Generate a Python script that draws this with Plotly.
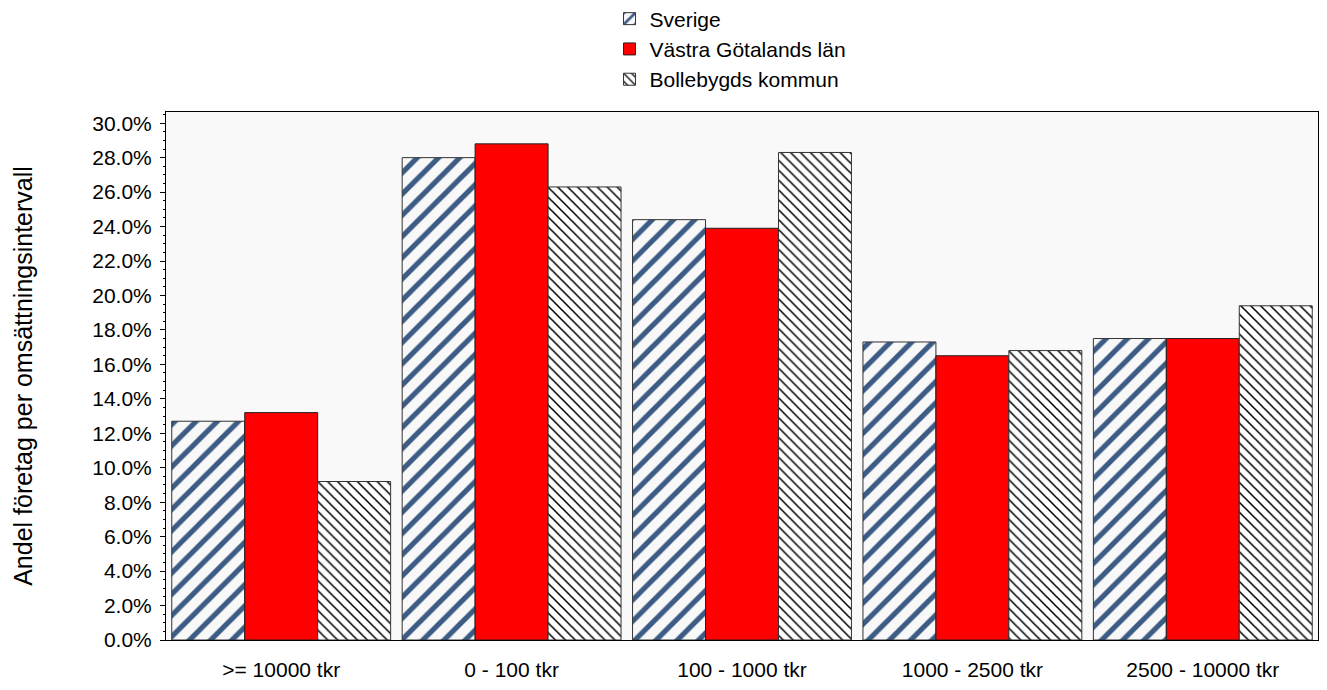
import plotly.graph_objects as go

categories = [">= 10000 tkr", "0 - 100 tkr", "100 - 1000 tkr", "1000 - 2500 tkr", "2500 - 10000 tkr"]
sverige = [12.7, 28.0, 24.4, 17.3, 17.5]
vastra_gotaland = [13.2, 28.8, 23.9, 16.5, 17.5]
bollebygd = [9.2, 26.3, 28.3, 16.8, 19.4]
y_ticks = [i * 2 for i in range(16)]
y_tick_labels = [f"{v:.1f}%" for v in y_ticks]

FONT = "Liberation Sans, Arial, sans-serif"

fig = go.Figure()
fig.add_trace(go.Bar(
    name="Sverige", x=categories, y=sverige,
    marker=dict(color="#f8f8f8", line=dict(color="#333333", width=1),
                pattern=dict(shape="/", fgcolor="#3d5c85", bgcolor="#f8f8f8", size=15,
                             solidity=0.35, fgopacity=1)),
))
fig.add_trace(go.Bar(
    name="Västra Götalands län", x=categories, y=vastra_gotaland,
    marker=dict(color="#ff0000", line=dict(color="#222222", width=1)),
))
fig.add_trace(go.Bar(
    name="Bollebygds kommun", x=categories, y=bollebygd,
    marker=dict(color="#ffffff", line=dict(color="#333333", width=1),
                pattern=dict(shape="\\", fgcolor="#000000", bgcolor="#ffffff", size=7,
                             solidity=0.22, fgopacity=1)),
))

fig.update_layout(
    width=1319, height=682,
    barmode="group", bargap=0.05, bargroupgap=0.0,
    plot_bgcolor="#f9f9f9", paper_bgcolor="#ffffff",
    margin=dict(l=158, r=9, t=104, b=50, autoexpand=False),
    font=dict(family=FONT, size=21, color="#000000"),
    legend=dict(orientation="v", xref="paper", x=0.385, xanchor="left",
                yref="paper", y=1.215, yanchor="top",
                font=dict(family=FONT, size=21), itemwidth=30,
                bgcolor="rgba(0,0,0,0)", tracegroupgap=0),
    showlegend=True,
)
fig.update_xaxes(showline=True, linecolor="#000000", linewidth=1, mirror=True,
                 ticks="", tickfont=dict(family=FONT, size=21), ticklabelstandoff=11,
                 tickangle=0)
fig.update_yaxes(range=[0, 30.65], tickvals=y_ticks, ticktext=y_tick_labels,
                 showgrid=False, zeroline=False,
                 showline=True, linecolor="#000000", linewidth=1, mirror=True,
                 ticks="outside", ticklen=5, tickcolor="#000000",
                 minor=dict(dtick=0.5, ticks="outside", ticklen=2, tickcolor="#000000", showgrid=False),
                 tickfont=dict(family=FONT, size=21), ticklabelstandoff=4,
                 title=dict(text="Andel företag per omsättningsintervall", font=dict(family=FONT, size=25), standoff=52))

fig.write_html("out.html")
